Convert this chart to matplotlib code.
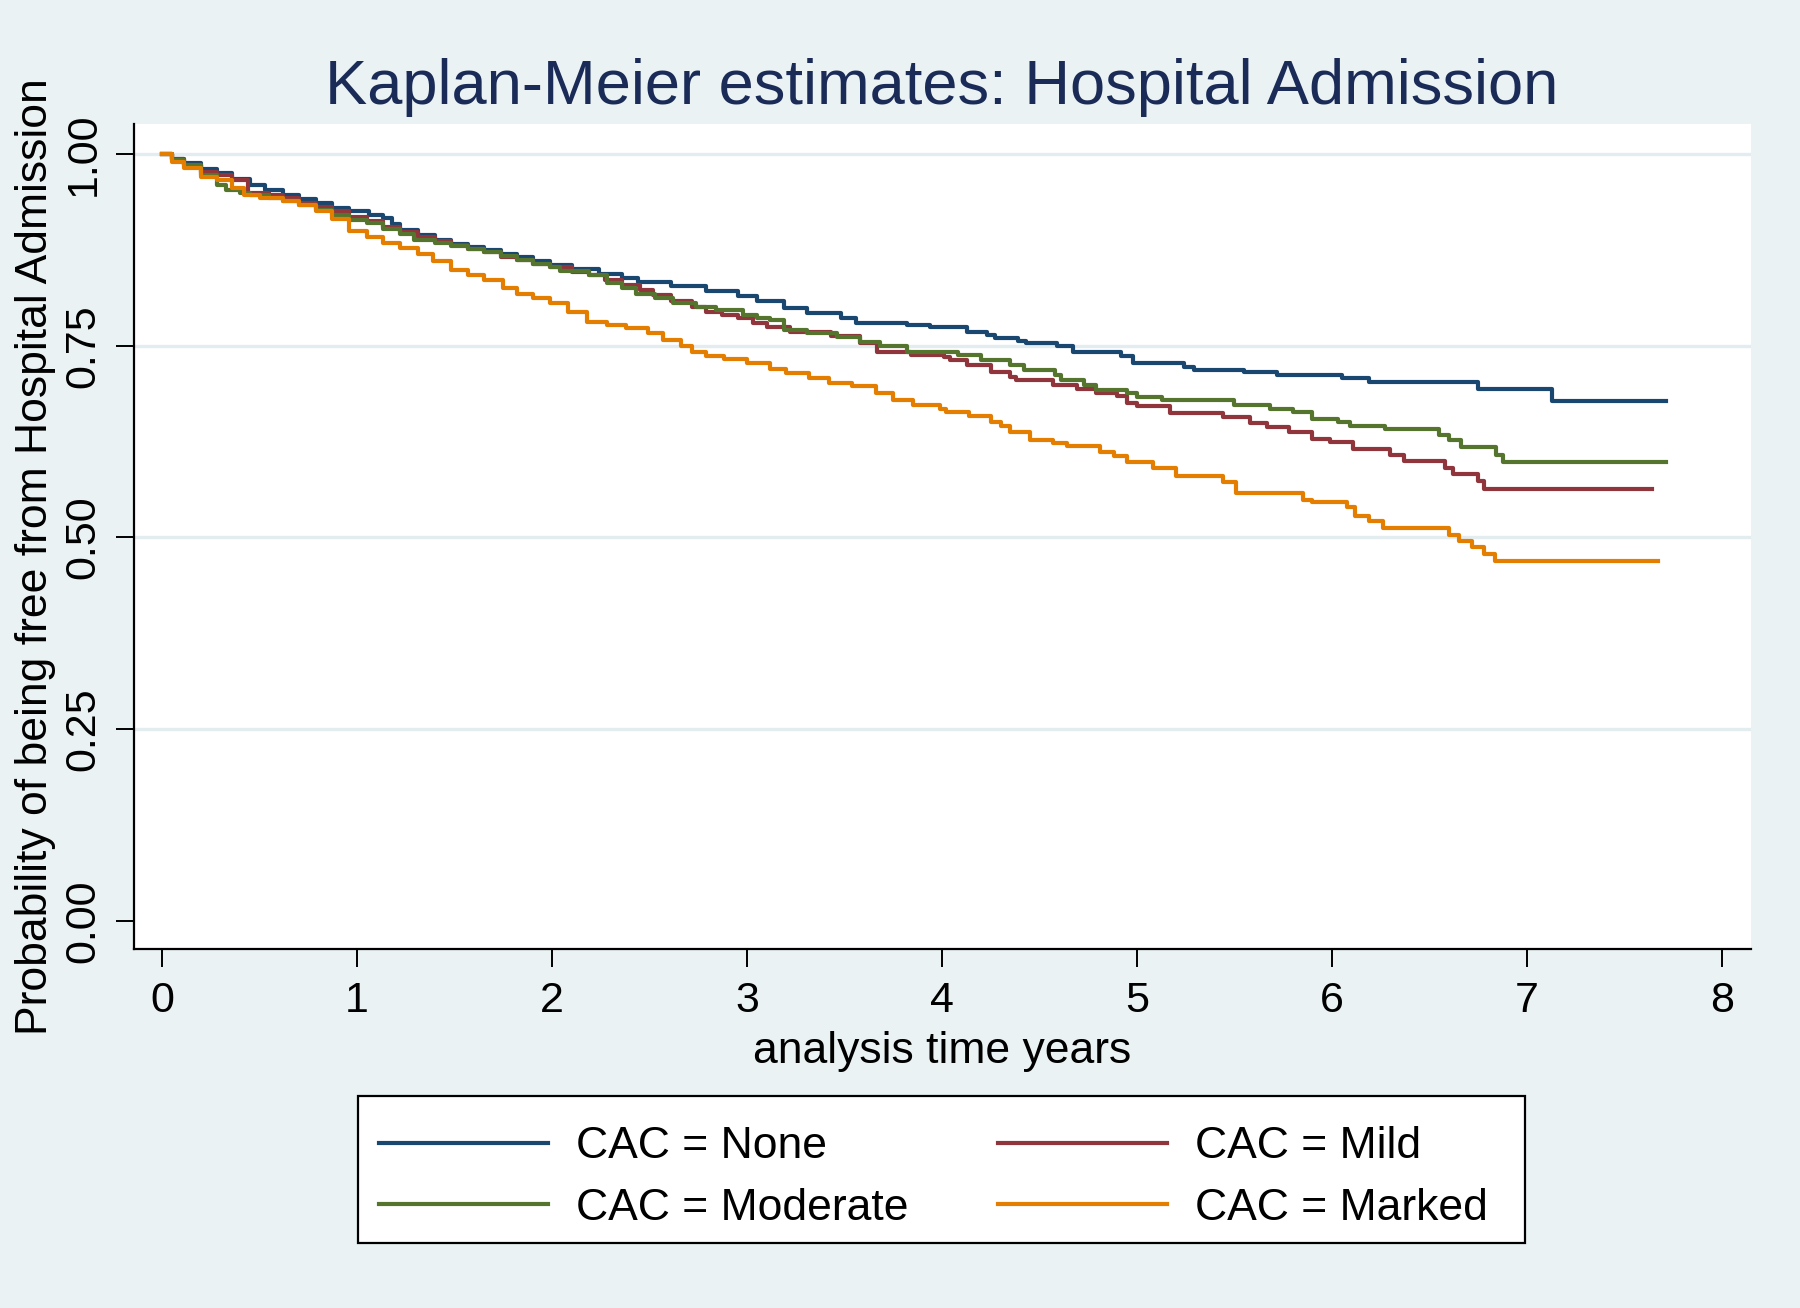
import matplotlib
matplotlib.use("Agg")
import matplotlib.pyplot as plt
from matplotlib.patches import Rectangle

plt.rcParams['font.family'] = ['Liberation Sans', 'DejaVu Sans']

# ---------------- data ----------------
labels = ["CAC = None", "CAC = Mild", "CAC = Moderate", "CAC = Marked"]
colors = ["#1A476F", "#90353B", "#55752F", "#E37E00"]

none_t = [0, 0.05, 0.11, 0.20, 0.28, 0.36, 0.45, 0.53, 0.62, 0.70, 0.79, 0.87, 0.96, 1.06,
          1.135, 1.18, 1.22, 1.31, 1.40, 1.48, 1.57, 1.65, 1.74, 1.82, 1.90, 1.99, 2.10, 2.24,
          2.36, 2.44, 2.61, 2.79, 2.955, 3.05, 3.19, 3.31, 3.48, 3.56, 3.82, 3.94, 4.13, 4.23,
          4.27, 4.39, 4.43, 4.59, 4.67, 4.92, 4.98, 5.24, 5.29, 5.55, 5.72, 6.05, 6.19, 6.75,
          7.13, 7.715]
none_s = [1.0, 0.994, 0.988, 0.980, 0.975, 0.967, 0.960, 0.953, 0.947, 0.941, 0.936, 0.930,
          0.925, 0.921, 0.916, 0.908, 0.901, 0.894, 0.888, 0.883, 0.879, 0.875, 0.870, 0.866,
          0.861, 0.855, 0.850, 0.844, 0.838, 0.833, 0.828, 0.821, 0.815, 0.808, 0.799, 0.792,
          0.786, 0.779, 0.777, 0.775, 0.768, 0.764, 0.760, 0.756, 0.753, 0.749, 0.742, 0.736,
          0.727, 0.722, 0.718, 0.716, 0.712, 0.708, 0.703, 0.694, 0.678, 0.678]

mild_t = [0, 0.05, 0.11, 0.20, 0.28, 0.36, 0.44, 0.55, 0.62, 0.70, 0.79, 0.87, 0.96, 1.05,
          1.135, 1.22, 1.31, 1.40, 1.48, 1.57, 1.65, 1.74, 1.82, 1.90, 1.99, 2.10, 2.19, 2.27,
          2.36, 2.45, 2.52, 2.61, 2.72, 2.79, 2.87, 2.955, 3.03, 3.10, 3.22, 3.43, 3.58, 3.665,
          3.84, 4.01, 4.04, 4.13, 4.25, 4.35, 4.38, 4.57, 4.69, 4.79, 4.90, 4.95, 5.00, 5.17,
          5.44, 5.58, 5.665, 5.78, 5.90, 5.99, 6.11, 6.30, 6.37, 6.58, 6.62, 6.75, 6.78, 7.64]
mild_s = [1.0, 0.993, 0.986, 0.977, 0.972, 0.966, 0.949, 0.947, 0.942, 0.936, 0.931, 0.925,
          0.918, 0.912, 0.905, 0.898, 0.892, 0.886, 0.881, 0.876, 0.872, 0.866, 0.862, 0.857,
          0.852, 0.846, 0.842, 0.836, 0.829, 0.822, 0.816, 0.808, 0.801, 0.794, 0.790, 0.786,
          0.780, 0.775, 0.768, 0.762, 0.753, 0.742, 0.738, 0.735, 0.731, 0.725, 0.716, 0.709,
          0.705, 0.699, 0.694, 0.688, 0.684, 0.675, 0.671, 0.662, 0.657, 0.649, 0.644, 0.638,
          0.629, 0.624, 0.615, 0.607, 0.600, 0.590, 0.583, 0.573, 0.563, 0.563]

mod_t = [0, 0.05, 0.11, 0.20, 0.28, 0.33, 0.40, 0.45, 0.55, 0.62, 0.70, 0.79, 0.87, 0.96,
         1.05, 1.135, 1.22, 1.29, 1.40, 1.48, 1.57, 1.65, 1.74, 1.82, 1.90, 1.99, 2.04, 2.19,
         2.28, 2.36, 2.43, 2.53, 2.62, 2.74, 2.84, 2.98, 3.05, 3.12, 3.19, 3.31, 3.46, 3.58,
         3.68, 3.82, 4.08, 4.20, 4.35, 4.42, 4.58, 4.61, 4.73, 4.79, 4.95, 5.00, 5.13, 5.50,
         5.68, 5.80, 5.90, 6.03, 6.09, 6.27, 6.55, 6.60, 6.66, 6.84, 6.875, 7.715]
mod_s = [1.0, 0.992, 0.985, 0.972, 0.960, 0.953, 0.949, 0.947, 0.942, 0.938, 0.933, 0.927,
         0.921, 0.914, 0.910, 0.902, 0.896, 0.888, 0.884, 0.880, 0.876, 0.872, 0.867, 0.862,
         0.857, 0.853, 0.847, 0.842, 0.832, 0.825, 0.818, 0.812, 0.806, 0.801, 0.796, 0.790,
         0.786, 0.784, 0.771, 0.766, 0.761, 0.755, 0.749, 0.742, 0.738, 0.731, 0.725, 0.718,
         0.712, 0.705, 0.699, 0.692, 0.688, 0.683, 0.679, 0.673, 0.668, 0.664, 0.655, 0.651,
         0.645, 0.641, 0.634, 0.627, 0.618, 0.608, 0.599, 0.599]

marked_t = [0, 0.05, 0.11, 0.20, 0.28, 0.36, 0.42, 0.50, 0.62, 0.70, 0.79, 0.87, 0.96, 1.05,
            1.135, 1.22, 1.31, 1.39, 1.48, 1.57, 1.65, 1.75, 1.82, 1.90, 1.99, 2.08, 2.18,
            2.28, 2.38, 2.49, 2.57, 2.66, 2.72, 2.79, 2.88, 3.00, 3.12, 3.20, 3.32, 3.42, 3.54,
            3.66, 3.75, 3.85, 3.99, 4.02, 4.14, 4.25, 4.30, 4.35, 4.45, 4.57, 4.64, 4.81, 4.88,
            4.95, 5.08, 5.20, 5.44, 5.51, 5.85, 5.90, 6.075, 6.12, 6.19, 6.26, 6.60, 6.65, 6.72,
            6.78, 6.835, 7.67]
marked_s = [1.0, 0.990, 0.982, 0.970, 0.966, 0.955, 0.947, 0.943, 0.938, 0.933, 0.926, 0.915,
            0.899, 0.892, 0.884, 0.877, 0.870, 0.860, 0.849, 0.842, 0.836, 0.825, 0.818, 0.812,
            0.806, 0.794, 0.781, 0.777, 0.773, 0.766, 0.758, 0.749, 0.742, 0.736, 0.732, 0.727,
            0.720, 0.714, 0.708, 0.702, 0.697, 0.688, 0.679, 0.673, 0.668, 0.664, 0.658, 0.651,
            0.645, 0.638, 0.627, 0.623, 0.619, 0.612, 0.606, 0.598, 0.590, 0.580, 0.572, 0.558,
            0.549, 0.546, 0.540, 0.528, 0.522, 0.512, 0.503, 0.496, 0.488, 0.479, 0.469, 0.469]

series_t = [none_t, mild_t, mod_t, marked_t]
series_s = [none_s, mild_s, mod_s, marked_s]

xticks = [0, 1, 2, 3, 4, 5, 6, 7, 8]
yticks = [0.0, 0.25, 0.5, 0.75, 1.0]
ytick_labels = ["0.00", "0.25", "0.50", "0.75", "1.00"]
grid_levels = [0.25, 0.5, 0.75, 1.0]

title = "Kaplan-Meier estimates: Hospital Admission"
xlabel = "analysis time years"
ylabel = "Probability of being free from Hospital Admission"

# ---------------- figure ----------------
BG = "#EAF2F3"
W, H = 1800, 1308
fig = plt.figure(figsize=(W / 100, H / 100), dpi=100, facecolor=BG)
ax = fig.add_axes([134 / W, 1 - 949 / H, (1751 - 134) / W, (949 - 124) / H])
ax.set_facecolor("white")

for lev in grid_levels:
    ax.axhline(lev, color="#E3EDEF", lw=2.4, zorder=1)

lines = []
for t, s, c, lab in zip(series_t, series_s, colors, labels):
    ln, = ax.step(t, s, where="post", color=c, lw=3.0, label=lab, zorder=3)
    lines.append(ln)

ax.set_xlim(-0.144, 8.149)
ax.set_ylim(-0.0365, 1.039)
ax.set_xticks(xticks)
ax.set_xticklabels([str(v) for v in xticks])
ax.set_yticks(yticks)
ax.set_yticklabels(ytick_labels, rotation=90, va="center")

for side in ["top", "right"]:
    ax.spines[side].set_visible(False)
for side in ["left", "bottom"]:
    ax.spines[side].set_linewidth(1.6)
    ax.spines[side].set_color("black")

ax.tick_params(axis="both", length=13, width=1.4, color="black", labelsize=31)
ax.tick_params(axis="x", pad=10)
ax.tick_params(axis="y", pad=9)

ax.set_xlabel(xlabel, fontsize=32, labelpad=7)
ax.set_ylabel(ylabel, fontsize=32)
ax.yaxis.set_label_coords(-0.0482, 0.475)

fig.text(942 / W, 1 - 104 / H, title, fontsize=45.5, color="#1A2B57",
         ha="center", va="baseline")

# legend box
box = Rectangle((358 / W, 1 - 1243 / H), (1525 - 358) / W, (1243 - 1096) / H,
                transform=fig.transFigure, facecolor="white", edgecolor="black",
                linewidth=1.6, zorder=1)
fig.add_artist(box)

order = [0, 2, 1, 3]
leg = fig.legend([lines[i] for i in order], [labels[i] for i in order],
                 ncol=2, loc="center left",
                 bbox_to_anchor=(379 / W, 1 - 1177.5 / H),
                 fontsize=32, frameon=False,
                 handlelength=3.8, handletextpad=0.63, columnspacing=2.01,
                 labelspacing=0.45, borderpad=0, borderaxespad=0)
leg.set_zorder(2)
for h in leg.legend_handles:
    h.set_linewidth(3.0)

fig.savefig("out.png", dpi=100, facecolor=BG)
